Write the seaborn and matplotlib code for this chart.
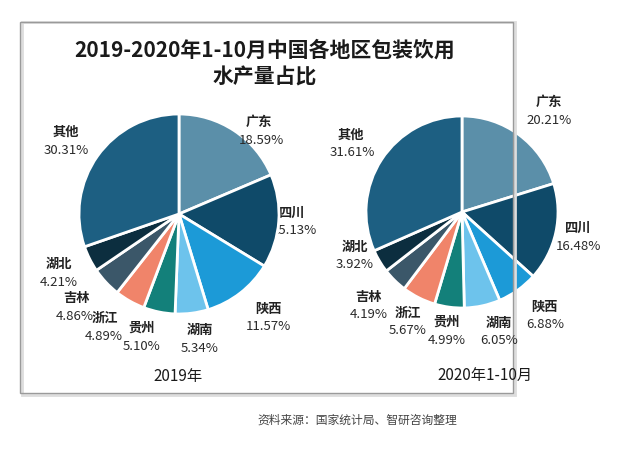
import matplotlib
matplotlib.use("Agg")
import matplotlib.pyplot as plt
import matplotlib.patches as mpatches
import seaborn as sns

# ---- data ----
regions = ["广东", "四川", "陕西", "湖南", "贵州", "浙江", "吉林", "湖北", "其他"]
share_2019 = [18.59, 15.13, 11.57, 5.34, 5.10, 4.89, 4.86, 4.21, 30.31]
share_2020 = [20.21, 16.48, 6.88, 6.05, 4.99, 5.67, 4.19, 3.92, 31.61]
period_labels = ["2019年", "2020年1-10月"]
title = "2019-2020年1-10月中国各地区包装饮用\n水产量占比"
source = "资料来源：国家统计局、智研咨询整理"

colors = ["#5b8fa9", "#0f4a69", "#1c9ad7", "#6dc3ec", "#13807a",
          "#f0846a", "#3b5769", "#0c2e3f", "#1d5f82"]

sns.set_theme(style="white")
plt.rcParams['font.family'] = ['Noto Sans CJK SC', 'DejaVu Sans']
palette = sns.color_palette(colors)

W, H = 623, 449
fig = plt.figure(figsize=(W / 100, H / 100), dpi=100)
fig.patch.set_facecolor("white")


def fx(x):
    return x / W


def fy(y):
    return 1 - y / H


# border box with faint shadow
fig.patches.append(mpatches.Rectangle((fx(22), fy(395)), fx(493), 373 / H,
                                      transform=fig.transFigure, fill=False,
                                      edgecolor="#dddddd", linewidth=2.0, zorder=0))
fig.patches.append(mpatches.Rectangle((fx(20), fy(393)), fx(493), 371 / H,
                                      transform=fig.transFigure, fill=False,
                                      edgecolor="#9a9a9a", linewidth=1.0, zorder=1))

fig.text(fx(265), fy(64), title, ha="center", va="center", fontsize=15,
         fontweight="bold", color="#1a1a1a", linespacing=1.35)

# pie geometry (pixel): center x, center y, radius
pies = [(179, 214, 100, share_2019), (462, 212, 96, share_2020)]

# label positions (pixel) for each pie: name line y, percent below
label_pos = [
    [(259, 122), (292, 213), (268, 309), (200, 330), (142, 328),
     (105, 318), (77, 298), (59, 264), (66, 132)],
    [(549, 102), (578, 228), (544, 307), (499, 323), (447, 322),
     (408, 313), (369, 297), (355, 247), (351, 135)],
]
pct_dx = [
    [2, 2, 0, 0, 0, -1, -2, 0, 0],
    [0, 0, 1, 0, 0, 0, 0, 0, 1],
]
behind = [[False, True, False, False, False, False, False, False, False],
          [False] * 9]
sub_pos = [(178, 377), (485, 375)]

for i, (cx, cy, r, vals) in enumerate(pies):
    ax = fig.add_axes([fx(cx - r), fy(cy + r), 2 * r / W, 2 * r / H])
    ax.pie(vals, colors=palette, startangle=90, counterclock=False,
           wedgeprops=dict(edgecolor="white", linewidth=2.0))
    ax.set_xlim(-1.0, 1.0)
    ax.set_ylim(-1.0, 1.0)
    ax.set_aspect("equal")
    ax.axis("off")
    for j, name in enumerate(regions):
        x, y = label_pos[i][j]
        z = -1 if behind[i][j] else 5
        fig.text(fx(x), fy(y), name, ha="center", va="center", fontsize=9.5,
                 fontweight="bold", color="#222222", zorder=z)
        fig.text(fx(x + pct_dx[i][j]), fy(y + 18), f"{vals[j]:.2f}%", ha="center",
                 va="center", fontsize=9.5, color="#2a2a2a", zorder=z)
    sx, sy = sub_pos[i]
    fig.text(fx(sx), fy(sy), period_labels[i], ha="center", va="center",
             fontsize=11, color="#1a1a1a")

fig.text(fx(357), fy(420), source, ha="center", va="center", fontsize=8.5,
         color="#444444", style="italic")

fig.savefig("out.png", dpi=100, facecolor="white")
